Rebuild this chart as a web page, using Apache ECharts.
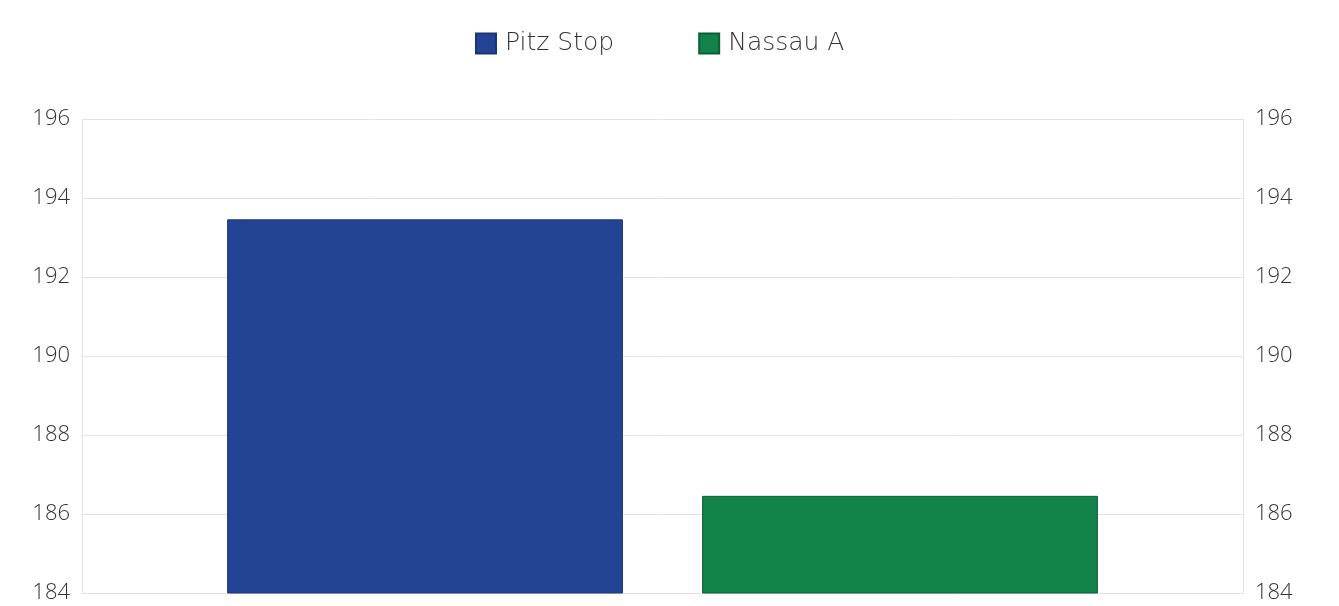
<!DOCTYPE html>
<html>
<head>
<meta charset="UTF-8">
<script src="https://cdn.jsdelivr.net/npm/echarts@6/dist/echarts.min.js"></script>
<style>
  html, body { margin: 0; padding: 0; background: #fff; }
  #chart { width: 1339px; height: 606px; }
</style>
</head>
<body>
<div id="chart"></div>
<script>
  const categories = [''];
  const seriesNames = ['Pitz Stop', 'Nassau A'];
  const pitzStop = [193.46];
  const nassauA = [186.46];
  const yTicks = { min: 184, max: 196, step: 2 };

  const font = '"Open Sans", "Noto Sans", sans-serif';
  const chart = echarts.init(document.getElementById('chart'));

  const valueAxis = (pos) => ({
    type: 'value',
    position: pos,
    min: yTicks.min,
    max: yTicks.max,
    interval: yTicks.step,
    axisLine: { show: true, lineStyle: { color: '#e3e3e3' } },
    axisTick: { show: false },
    axisLabel: { color: '#333', fontSize: 22, fontFamily: font, fontWeight: 300, margin: 12 },
    splitLine: { show: pos === 'left', lineStyle: { color: '#e3e3e3' } }
  });

  chart.setOption({
    animation: false,
    legend: {
      data: seriesNames,
      top: 26,
      left: 470,
      icon: 'rect',
      itemWidth: 20,
      itemHeight: 20,
      itemGap: 84,
      textStyle: { color: '#333', fontSize: 25, fontFamily: '"DejaVu Sans", sans-serif', fontWeight: 200, padding: [0, 0, 0, 4] }
    },
    grid: { left: 82, right: 96, top: 119, bottom: 13 },
    xAxis: {
      type: 'category',
      data: categories,
      axisLine: { show: true, lineStyle: { color: '#e3e3e3' } },
      axisTick: { show: false },
      axisLabel: { show: false }
    },
    yAxis: [valueAxis('left'), valueAxis('right')],
    series: [
      {
        name: seriesNames[0], type: 'bar', data: pitzStop,
        barGap: '20%', barCategoryGap: '25%',
        itemStyle: { color: '#234494', borderColor: '#1b3677', borderWidth: 1 }
      },
      {
        name: seriesNames[1], type: 'bar', data: nassauA,
        itemStyle: { color: '#12824b', borderColor: '#0d5e37', borderWidth: 1 }
      }
    ]
  });
</script>
</body>
</html>
